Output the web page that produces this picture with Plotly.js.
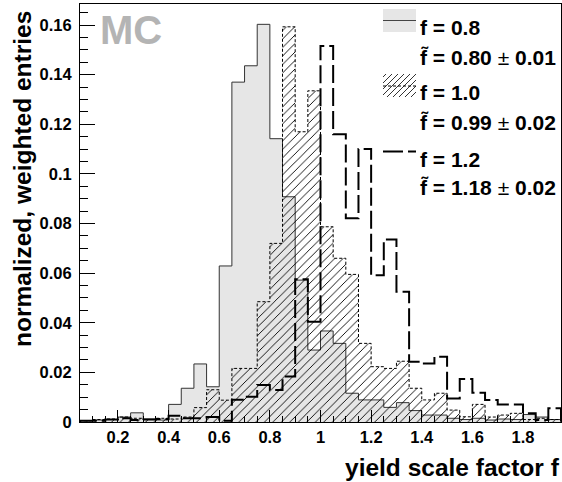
<!DOCTYPE html>
<html><head><meta charset="utf-8">
<script src="https://cdn.plot.ly/plotly-3.0.1.min.js"></script>
<style>html,body{margin:0;padding:0;background:#fff}#chart{width:562px;height:482px}</style>
</head><body><div id="chart"></div>
<script>
// histogram binning (visible bins 0.05 .. 1.95, width 0.05)
const binStart = 0.05;
const binWidth = 0.05;

// normalized, weighted entries per bin
const h08 = [0.0005,0.0008,0.0010,0.0020,0.0037,0.0012,0.0008,0.0071,0.0136,0.0234,
             0.0142,0.0629,0.1370,0.1436,0.1603,0.1142,0.0908,0.0572,0.0290,0.0367,
             0.0317,0.0116,0.0089,0.0089,0.0059,0.0078,0.0046,0.0028,0.0028,0.0015,
             0.0010,0.0015,0.0008,0.0012,0.0010,0.0030,0.0020,0.0010];
const h10 = [0.0005,0.0010,0.0012,0.0020,0.0015,0.0010,0.0015,0.0012,0.0020,0.0058,
             0.0130,0.0088,0.0216,0.0216,0.0485,0.0720,0.1593,0.1170,0.1335,0.0787,
             0.0660,0.0595,0.0317,0.0223,0.0216,0.0245,0.0136,0.0089,0.0116,0.0048,
             0.0021,0.0071,0.0020,0.0028,0.0035,0.0010,0.0015,0.0010];
const h12 = [0.0005,0.0005,0.0010,0.0015,0.0008,0.0010,0.0012,0.0025,0.0015,0.0015,
             0.0020,0.0005,0.0090,0.0102,0.0149,0.0129,0.0183,0.0575,0.0404,0.1516,
             0.1160,0.0821,0.1100,0.0592,0.0736,0.0525,0.0243,0.0236,0.0263,0.0095,
             0.0173,0.0118,0.0089,0.0071,0.0071,0.0035,0.0008,0.0055];

const legendLabels = ['f = 0.8','f = 1.0','f = 1.2'];
const fitValues = ['0.80','0.99','1.18'];
const fitErrors = ['0.01','0.02','0.02'];

const xTickVals = [0.2,0.4,0.6,0.8,1.0,1.2,1.4,1.6,1.8];
const xTickText = ['0.2','0.4','0.6','0.8','1','1.2','1.4','1.6','1.8'];
const yTickVals = [0,0.02,0.04,0.06,0.08,0.10,0.12,0.14,0.16];
const yTickText = ['0','0.02','0.04','0.06','0.08','0.1','0.12','0.14','0.16'];

const xTitle = 'yield scale factor f';
const yTitle = 'normalized, weighted entries';
const tag = 'MC';

function stepXY(vals){
  const x=[binStart], y=[0];
  vals.forEach((v,i)=>{ x.push(+(binStart+i*binWidth).toFixed(4)); y.push(v); });
  const end = +(binStart+vals.length*binWidth).toFixed(4);
  x.push(end); y.push(vals[vals.length-1]);
  x.push(end); y.push(0);
  return {x,y};
}

const FONT = 'Liberation Sans, Arial, Helvetica, sans-serif';
const s08 = stepXY(h08), s10 = stepXY(h10), s12 = stepXY(h12);

const traces = [
  {x:s08.x, y:s08.y, type:'scatter', mode:'lines', line:{shape:'hv', color:'#333', width:1},
   fill:'tozeroy', fillcolor:'#e6e6e6', showlegend:false, hoverinfo:'skip'},
  {x:s10.x, y:s10.y, type:'scatter', mode:'lines', line:{shape:'hv', color:'#000', width:1, dash:'3px,2px'},
   fill:'tozeroy', fillcolor:'rgba(0,0,0,0)',
   fillpattern:{shape:'/', fgcolor:'#000', bgcolor:'rgba(0,0,0,0)', size:6, solidity:0.15, fgopacity:1},
   showlegend:false, hoverinfo:'skip'},
  {x:s12.x, y:s12.y, type:'scatter', mode:'lines', line:{shape:'hv', color:'#000', width:2, dash:'18px,5px'},
   showlegend:false, hoverinfo:'skip'}
];

// layout geometry (pixels)
const W=562, H=482, ML=80, MR=1, MT=4, MB=60;
const PW=W-ML-MR, PH=H-MT-MB;
const px = v => (v-ML)/PW;
const py = v => (H-MB-v)/PH;

const annotations = [];
const shapes = [];
annotations.push({xref:'paper', yref:'paper', x:px(98), y:py(30), xanchor:'left', yanchor:'middle',
  text:tag, showarrow:false, font:{family:FONT, size:40, color:'#b4b4b4', weight:'bold'}});
annotations.push({xref:'paper', yref:'paper', x:px(562), y:py(467), xanchor:'right', yanchor:'middle',
  text:xTitle, showarrow:false, font:{family:FONT, size:24.5, color:'#000', weight:'bold'}});
annotations.push({xref:'paper', yref:'paper', x:px(22), y:py(9), xanchor:'center', yanchor:'top', textangle:-90,
  text:yTitle, showarrow:false, font:{family:FONT, size:24.5, color:'#000', weight:'bold'}});

// legend text
const rowCenters = [[27,57],[93,122],[159,187]];
legendLabels.forEach((lab,i)=>{
  annotations.push({xref:'paper', yref:'paper', x:px(418), y:py(rowCenters[i][0]), xanchor:'left', yanchor:'middle',
    text:lab, showarrow:false, font:{family:FONT, size:21, color:'#000', weight:'bold'}});
  annotations.push({xref:'paper', yref:'paper', x:px(418), y:py(rowCenters[i][1]), xanchor:'left', yanchor:'middle',
    text:'f\u0303 = '+fitValues[i]+' <span style="font-weight:normal">\u00b1</span> '+fitErrors[i], showarrow:false,
    font:{family:FONT, size:21, color:'#000', weight:'bold'}});
});

// legend symbols
const bx0=383, bx1=416;
shapes.push({type:'rect', xref:'paper', yref:'paper', x0:px(bx0), x1:px(bx1), y0:py(9), y1:py(32),
  fillcolor:'#e6e6e6', line:{width:0}});
shapes.push({type:'line', xref:'paper', yref:'paper', x0:px(bx0), x1:px(bx1), y0:py(20.5), y1:py(20.5),
  line:{color:'#444', width:1}});
const hy0=74, hy1=97;
for(let c=bx0+hy0+3; c<bx1+hy1; c+=6){
  const xa=Math.max(bx0, c-hy1), xb=Math.min(bx1, c-hy0);
  if(xb>xa) shapes.push({type:'line', xref:'paper', yref:'paper', x0:px(xa), y0:py(c-xa), x1:px(xb), y1:py(c-xb),
    line:{color:'#000', width:0.8}});
}
shapes.push({type:'line', xref:'paper', yref:'paper', x0:px(bx0), x1:px(bx1), y0:py(86), y1:py(86),
  line:{color:'#000', width:1, dash:'3px,2px'}});
shapes.push({type:'line', xref:'paper', yref:'paper', x0:px(bx0), x1:px(bx1), y0:py(151.5), y1:py(151.5),
  line:{color:'#000', width:2, dash:'20px,5px'}});

const layout = {
  width:W, height:H, margin:{l:ML, r:MR, t:MT, b:MB},
  paper_bgcolor:'#fff', plot_bgcolor:'#fff', showlegend:false,
  font:{family:FONT, color:'#000'},
  xaxis:{range:[0.05,1.95], showgrid:false, zeroline:false, showline:true, linecolor:'#000', linewidth:1, mirror:true,
    ticks:'inside', ticklen:12, tickwidth:1, tickcolor:'#000',
    tickvals:xTickVals, ticktext:xTickText, tickfont:{family:FONT, size:16.5, weight:'bold'},
    minor:{ticks:'inside', dtick:0.05, ticklen:6, tickcolor:'#000', showgrid:false}},
  yaxis:{range:[0,0.1685], showgrid:false, zeroline:false, showline:true, linecolor:'#000', linewidth:1, mirror:true,
    ticks:'inside', ticklen:15, tickwidth:1, tickcolor:'#000',
    tickvals:yTickVals, ticktext:yTickText, tickfont:{family:FONT, size:16.5, weight:'bold'},
    ticklabelstandoff:4,
    minor:{ticks:'inside', dtick:0.005, ticklen:8, tickcolor:'#000', showgrid:false}},
  annotations, shapes
};
Plotly.newPlot('chart', traces, layout, {staticPlot:true, displayModeBar:false});
</script></body></html>
